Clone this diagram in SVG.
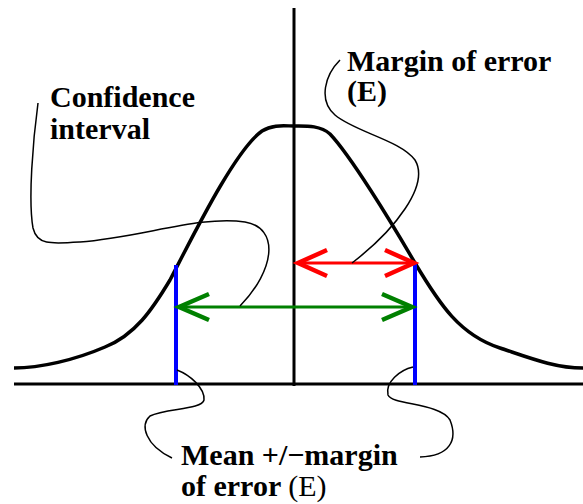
<svg xmlns="http://www.w3.org/2000/svg" width="583" height="504" viewBox="0 0 583 504">
<style>
.lbl{font-family:"Liberation Serif","Times New Roman",serif;font-size:30px;font-weight:bold;fill:#000}
.reg{font-weight:normal}
.leader{fill:none;stroke:#000;stroke-width:1.5}
.axis{stroke:#000;stroke-width:3;fill:none}
</style>
<defs>
<marker id="hr" markerUnits="userSpaceOnUse" viewBox="-34 -16 36 32" markerWidth="36" markerHeight="32" refX="0" refY="0" orient="auto-start-reverse" overflow="visible">
<path d="M-30,-13 L-1,0 L-30,13" fill="none" stroke="#ff0000" stroke-width="4.5"/>
</marker>
<marker id="hg" markerUnits="userSpaceOnUse" viewBox="-34 -16 36 32" markerWidth="36" markerHeight="32" refX="0" refY="0" orient="auto-start-reverse" overflow="visible">
<path d="M-31,-13 L-1,0 L-31,13" fill="none" stroke="#008000" stroke-width="4.5"/>
</marker>
</defs>
<g id="axes">
<line class="axis" x1="294" y1="8" x2="294" y2="386"/>
<line class="axis" x1="14" y1="384" x2="583" y2="384"/>
</g>
<g id="curve">
<path d="M14,368 C40,368 75,360 105,347 C135,335 152,310 170,280 C193,236 235,150 262,131 C273,124 285,126 294,126 C305,126 320,125 330,134 C350,155 390,220 415,263 C440,305 460,335 500,348 C530,358 555,368 583,368" fill="none" stroke="#000" stroke-width="3.5"/>
</g>
<g id="bounds">
<line x1="176" y1="265" x2="176" y2="385" stroke="#0000ff" stroke-width="4"/>
<line x1="415" y1="263" x2="415" y2="385" stroke="#0000ff" stroke-width="4"/>
</g>
<g id="connectors">
<line x1="297" y1="263" x2="415" y2="263" stroke="#ff0000" stroke-width="3" marker-start="url(#hr)" marker-end="url(#hr)"/>
<line x1="178" y1="307" x2="413" y2="307" stroke="#008000" stroke-width="3" marker-start="url(#hg)" marker-end="url(#hg)"/>
<path class="leader" d="M38,103 C33,140 28,200 33,228 C37,245 50,244 80,242 C140,238 200,215 245,222 C280,228 275,270 240,306"/>
<path class="leader" d="M340,60 C325,75 318,100 335,115 C355,132 400,140 415,160 C430,185 395,230 352,263"/>
<path class="leader" d="M177,370 C190,375 205,388 204,400 C202,410 165,408 150,416 C140,425 145,445 172,458"/>
<path class="leader" d="M413,367 C400,370 385,382 388,395 C392,405 440,403 450,420 C458,440 450,456 420,457"/>
</g>
<g id="label-ci">
<text class="lbl" x="50" y="107">Confidence</text>
<text class="lbl" x="50" y="139">interval</text>
</g>
<g id="label-moe">
<text class="lbl" x="347" y="71">Margin of error</text>
<text class="lbl" x="347" y="101">(E)</text>
</g>
<g id="label-mean">
<text class="lbl" x="181" y="465">Mean +/−margin</text>
<text class="lbl" x="181" y="496">of error <tspan class="reg">(E)</tspan></text>
</g>
</svg>
